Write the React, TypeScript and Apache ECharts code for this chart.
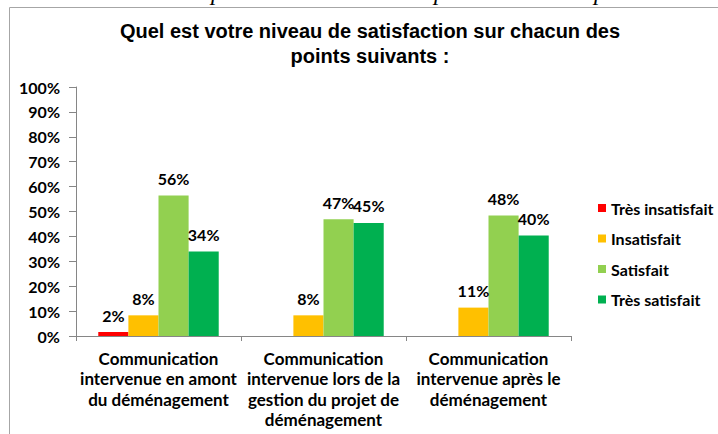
import React, { useEffect, useRef } from "react";
import * as echarts from "echarts";

const categories = [
  "Communication\nintervenue en amont\ndu déménagement",
  "Communication\nintervenue lors de la\ngestion du projet de\ndéménagement",
  "Communication\nintervenue après le\ndéménagement",
];
const seriesNames = ["Très insatisfait", "Insatisfait", "Satisfait", "Très satisfait"];
const tresInsatisfait = [1.6, 0, 0];
const insatisfait = [8.3, 8.3, 11.4];
const satisfait = [56.4, 46.9, 48.4];
const tresSatisfait = [33.9, 45.4, 40.4];
const colors = ["#FF0000", "#FFC000", "#92D050", "#00B050"];
const titleText = "Quel est votre niveau de satisfaction sur chacun des\npoints suivants :";

const LABEL_FONT = "Lato, 'Noto Sans', sans-serif";

export default function App() {
  const ref = useRef<HTMLDivElement>(null);
  useEffect(() => {
    if (!ref.current) return;
    const chart = echarts.init(ref.current, undefined, { renderer: "svg" });
    const values = [tresInsatisfait, insatisfait, satisfait, tresSatisfait];
    chart.setOption({
      animation: false,
      backgroundColor: "#ffffff",
      graphic: [
        {
          type: "rect",
          shape: { x: 9.5, y: 7.5, width: 800, height: 500 },
          style: { fill: "none", stroke: "#a6a6a6", lineWidth: 1 },
          z: 0,
        },
        ...[217, 440, 600].map((x) => ({
          type: "text",
          x,
          y: -20,
          style: {
            text: "p",
            font: "italic 24px 'Liberation Serif'",
            fill: "#000",
            textAlign: "center",
          },
          z: -1,
        })),
        {
          type: "text",
          x: 370,
          y: 18.5,
          style: {
            text: titleText,
            font: "bold 20px 'Liberation Sans', Arial, sans-serif",
            fill: "#000",
            textAlign: "center",
            lineHeight: 25,
          },
        },
      ],
      legend: {
        orient: "vertical",
        left: 593,
        top: 195,
        padding: 5,
        itemWidth: 8,
        itemHeight: 8,
        itemGap: 14.5,
        icon: "rect",
        data: seriesNames,
        textStyle: {
          fontFamily: LABEL_FONT,
          fontWeight: "bold",
          fontSize: 16,
          lineHeight: 16,
          color: "#000",
        },
      },
      grid: { left: 76, right: 147, top: 87, bottom: 98, containLabel: false },
      xAxis: {
        type: "category",
        data: categories,
        axisLine: { lineStyle: { color: "#868686" } },
        axisTick: { show: true, length: 5, lineStyle: { color: "#868686" } },
        axisLabel: {
          interval: 0,
          margin: 12,
          fontFamily: LABEL_FONT,
          fontWeight: "bold",
          fontSize: 17,
          lineHeight: 20.5,
          color: "#000",
          align: "center",
        },
      },
      yAxis: {
        type: "value",
        min: 0,
        max: 100,
        interval: 10,
        axisLine: { show: true, lineStyle: { color: "#868686" } },
        axisTick: { show: true, length: 7, lineStyle: { color: "#868686" } },
        splitLine: { show: false },
        axisLabel: {
          formatter: "{value}%",
          margin: 16,
          fontFamily: LABEL_FONT,
          fontWeight: "bold",
          fontSize: 16,
          color: "#000",
        },
      },
      series: seriesNames.map((name, i) => ({
        name,
        type: "bar",
        data: values[i],
        barGap: "0%",
        barCategoryGap: "27%",
        itemStyle: { color: colors[i] },
        label: {
          show: true,
          position: "top",
          distance: 9,
          formatter: (p: any) => (p.value > 0 ? Math.round(p.value) + "%" : ""),
          fontFamily: LABEL_FONT,
          fontWeight: "bold",
          fontSize: 16,
          color: "#000",
        },
      })),
    });
    return () => chart.dispose();
  }, []);
  return (
    <div
      ref={ref}
      style={{ position: "fixed", left: 0, top: 0, width: 718, height: 434, background: "#fff" }}
    />
  );
}
